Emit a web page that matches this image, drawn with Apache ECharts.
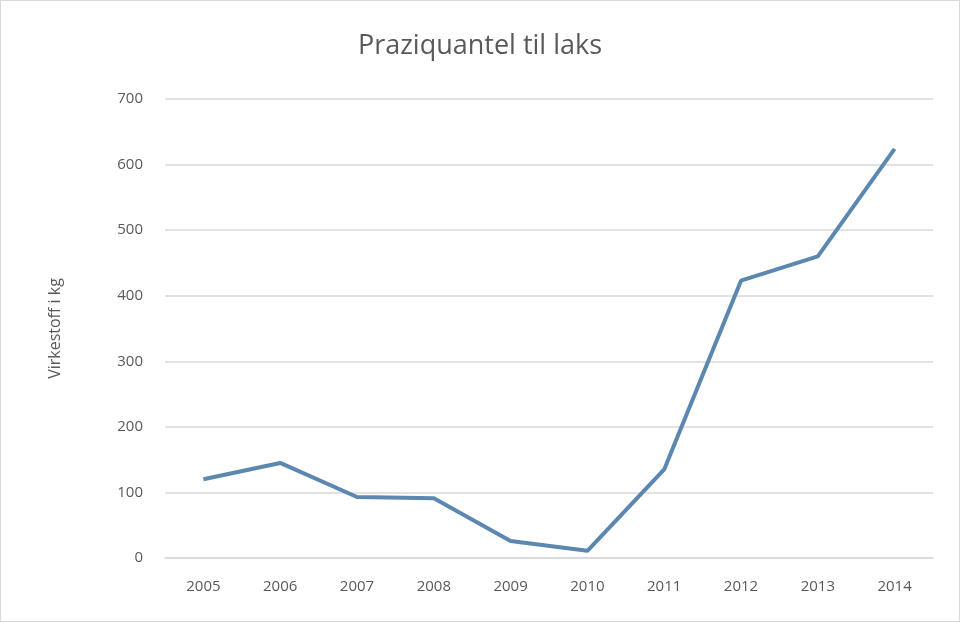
<!DOCTYPE html>
<html>
<head>
<meta charset="utf-8">
<script src="https://cdn.jsdelivr.net/npm/echarts@6/dist/echarts.min.js"></script>
<style>
  html, body { margin: 0; padding: 0; background: #fff; }
  #chartmain { width: 958px; height: 620px; border: 1px solid #d9d9d9; }
</style>
</head>
<body>
<div id="chartmain"></div>
<script>
var years = ['2005', '2006', '2007', '2008', '2009', '2010', '2011', '2012', '2013', '2014'];
var kg = [120, 145, 93, 91, 26, 11, 135, 423, 460, 624];
var yMin = 0, yMax = 700, yStep = 100;

var textColor = '#595959';
var font = 'Open Sans';

var option = {
    backgroundColor: '#fff',
    title: {
        text: 'Praziquantel til laks',
        left: 'center',
        top: 27,
        textStyle: { fontFamily: font, fontSize: 27, fontWeight: 'normal', color: textColor }
    },
    grid: { left: 164, right: 26, top: 98, bottom: 63 },
    xAxis: {
        type: 'category',
        data: years,
        boundaryGap: true,
        axisLine: { lineStyle: { color: '#d9d9d9', width: 1.5 } },
        axisTick: { show: false },
        axisLabel: { color: textColor, fontFamily: font, fontSize: 15, margin: 21 }
    },
    yAxis: {
        type: 'value',
        min: yMin,
        max: yMax,
        interval: yStep,
        name: 'Virkestoff i kg',
        nameLocation: 'middle',
        nameGap: 102,
        nameTextStyle: { color: textColor, fontFamily: font, fontSize: 16 },
        axisLine: { show: false },
        axisTick: { show: false },
        axisLabel: { color: textColor, fontFamily: font, fontSize: 15, margin: 22 },
        splitLine: { lineStyle: { color: '#d9d9d9', width: 1.5 } }
    },
    series: [{
        type: 'line',
        data: kg,
        symbol: 'none',
        lineStyle: { color: '#5b87b1', width: 4 },
        itemStyle: { color: '#5b87b1' }
    }]
};

var myChart = echarts.init(document.getElementById('chartmain'));
myChart.setOption(option);
</script>
</body>
</html>
